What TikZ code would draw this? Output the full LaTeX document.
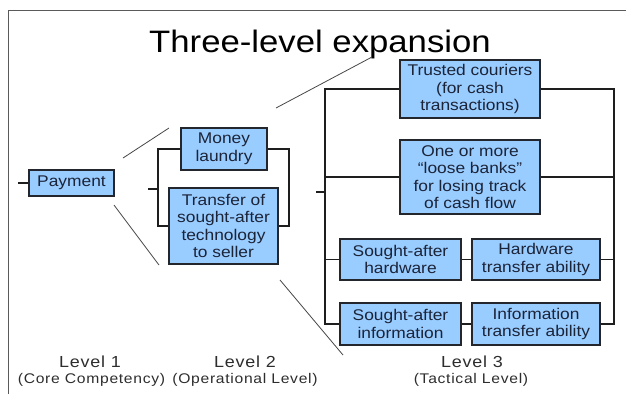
\documentclass[tikz,border=0pt]{standalone}
\usepackage{fontspec}
\setmainfont[FakeStretch=1.12]{Liberation Sans}
\newfontfamily\lvlfont[FakeStretch=1.12,LetterSpace=5]{Liberation Sans}
\definecolor{boxfill}{RGB}{153,204,255}
\definecolor{boxline}{RGB}{35,38,45}
\definecolor{boxtext}{RGB}{28,36,56}
\definecolor{wirec}{RGB}{30,30,30}
\definecolor{expc}{RGB}{70,70,70}
\definecolor{framec}{RGB}{90,90,90}
\definecolor{lvltext}{RGB}{45,45,45}
\begin{document}
\begin{tikzpicture}[x=1pt,y=-1pt,
  box/.style={draw=boxline, line width=1.4pt, fill=boxfill, text=boxtext,
    align=center, inner sep=0pt, font=\fontsize{15.5}{17.5}\selectfont},
  wire/.style={draw=wirec, line width=1.3pt},
  expline/.style={draw=expc, line width=0.8pt},
  framel/.style={draw=framec, line width=0.9pt},
  lvl/.style={text=lvltext, inner sep=0pt, font=\lvlfont\fontsize{16}{18}\selectfont},
  lvlsub/.style={text=lvltext, inner sep=0pt, font=\lvlfont\fontsize{14}{16}\selectfont}]
\useasboundingbox (0,0) rectangle (626,394);

% frame
\coordinate (fl) at (8,394);
\coordinate (ftl) at (8,10);
\coordinate (ftr) at (626,10);
\draw[framel] (fl) -- (ftl) -- (ftr);

% title
\node[anchor=base, inner sep=0pt, font=\fontsize{31}{36}\selectfont] (title) at (320,52) {Three-level expansion};

% level 1
\node[box, minimum width=85pt, minimum height=26pt] (pay) at (71.5,183) {Payment};
\coordinate (pstub) at (18,183);
\draw[wire] (pstub) -- (pay.west);

% level 2
\node[box, minimum width=86pt, minimum height=42pt] (money) at (224,149) {Money\\laundry};
\node[box, minimum width=109pt, minimum height=76pt] (transfer) at (223.5,226) {Transfer of\\sought-after\\technology\\to seller};
\coordinate (l2l) at (158,189);
\coordinate (l2r) at (289,189);
\coordinate (l2stub) at (148,189);
\draw[wire] (money.west) -| (l2l);
\draw[wire] (transfer.west) -| (l2l);
\draw[wire] (money.east) -| (l2r);
\draw[wire] (transfer.east) -| (l2r);
\draw[wire] (l2stub) -- (l2l);

% level 3
\node[box, minimum width=140pt, minimum height=58pt] (trusted) at (470,89) {Trusted couriers\\(for cash\\transactions)};
\node[box, minimum width=140pt, minimum height=74pt] (loose) at (470,177) {One or more\\``loose banks''\\for losing track\\of cash flow};
\node[box, minimum width=121pt, minimum height=41pt] (sah) at (400.5,259.5) {Sought-after\\hardware};
\node[box, minimum width=128pt, minimum height=41pt] (hta) at (536,259.5) {Hardware\\transfer ability};
\node[box, minimum width=121pt, minimum height=42pt] (sai) at (400.5,324) {Sought-after\\information};
\node[box, minimum width=128pt, minimum height=42pt] (ita) at (536,324) {Information\\transfer ability};
\coordinate (l3l) at (325,192);
\coordinate (l3r) at (614,192);
\coordinate (l3stub) at (316,192);
\draw[wire] (trusted.west) -| (l3l);
\draw[wire] (loose.west) -| (l3l);
\draw[wire] (sah.west) -| (l3l);
\draw[wire] (sai.west) -| (l3l);
\draw[wire] (trusted.east) -| (l3r);
\draw[wire] (loose.east) -| (l3r);
\draw[wire] (hta.east) -| (l3r);
\draw[wire] (ita.east) -| (l3r);
\draw[wire] (sah.east) -- (hta.west);
\draw[wire] (sai.east) -- (ita.west);
\draw[wire] (l3stub) -- (l3l);

% expansion lines
\coordinate (e1a) at (123,158); \coordinate (e1b) at (169,128);
\coordinate (e2a) at (114,205); \coordinate (e2b) at (159,265);
\coordinate (e3a) at (276,108); \coordinate (e3b) at (372,57);
\coordinate (e4a) at (280,280); \coordinate (e4b) at (343,355);
\draw[expline] (e1a) -- (e1b);
\draw[expline] (e2a) -- (e2b);
\draw[expline] (e3a) -- (e3b);
\draw[expline] (e4a) -- (e4b);

% level labels
\node[lvl] (lv1) at (90,362) {Level 1};
\node[lvlsub] (lv1s) at (91.5,380) {(Core Competency)};
\node[lvl] (lv2) at (245,362) {Level 2};
\node[lvlsub] (lv2s) at (245,380) {(Operational Level)};
\node[lvl] (lv3) at (472,362) {Level 3};
\node[lvlsub] (lv3s) at (471,380) {(Tactical Level)};
\end{tikzpicture}
\end{document}
